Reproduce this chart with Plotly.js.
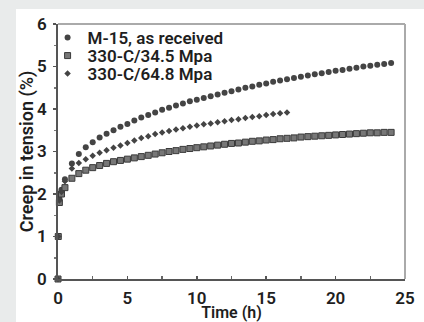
<!DOCTYPE html>
<html>
<head>
<meta charset="utf-8">
<script src="https://cdn.plot.ly/plotly-3.0.1.min.js"></script>
<style>
html,body{margin:0;padding:0;background:#e9ebeb;width:424px;height:322px;overflow:hidden;}
#chart{position:absolute;left:16px;top:9px;width:408px;height:313px;background:#fff;}
</style>
</head>
<body>
<div id="chart"></div>
<script>
// Time (h)
const timeA = [0,0.02,0.1,0.25,0.5,1,1.5,2,2.5,3,3.5,4,4.5,5,5.5,6,6.5,7,7.5,8,8.5,9,9.5,10,10.5,11,11.5,12,12.5,13,13.5,14,14.5,15,15.5,16,16.5,17,17.5,18,18.5,19,19.5,20,20.5,21,21.5,22,22.5,23,23.5,24];
// M-15, as received (%)
const m15 = [0,1.0,1.9,2.1,2.35,2.72,2.94,3.1,3.22,3.33,3.42,3.5,3.58,3.65,3.73,3.8,3.86,3.92,3.98,4.03,4.08,4.13,4.18,4.22,4.26,4.3,4.34,4.38,4.42,4.46,4.5,4.53,4.57,4.6,4.64,4.67,4.7,4.73,4.76,4.79,4.82,4.84,4.87,4.9,4.92,4.95,4.97,5.0,5.02,5.04,5.06,5.08];
// 330-C/34.5 Mpa (%)
const c345 = [0,1.0,1.8,2.0,2.15,2.37,2.48,2.56,2.62,2.67,2.72,2.76,2.79,2.82,2.85,2.88,2.91,2.94,2.97,3.0,3.02,3.05,3.07,3.09,3.11,3.13,3.15,3.17,3.19,3.2,3.22,3.24,3.25,3.27,3.28,3.3,3.31,3.32,3.34,3.35,3.36,3.37,3.38,3.39,3.4,3.41,3.42,3.43,3.44,3.44,3.45,3.45];
// 330-C/64.8 Mpa
const timeB = [0,0.02,0.1,0.25,0.5,1,1.5,2,2.5,3,3.5,4,4.5,5,5.5,6,6.5,7,7.5,8,8.5,9,9.5,10,10.5,11,11.5,12,12.5,13,13.5,14,14.5,15,15.5,16,16.5];
const c648 = [0,1.0,1.85,2.05,2.3,2.6,2.73,2.82,2.9,2.97,3.03,3.09,3.14,3.2,3.26,3.32,3.36,3.41,3.45,3.48,3.52,3.55,3.58,3.61,3.64,3.66,3.69,3.71,3.74,3.76,3.79,3.81,3.83,3.86,3.88,3.9,3.92];

const seriesNames = ["M-15, as received","330-C/34.5 Mpa","330-C/64.8 Mpa"];
const xTickVals = [0,5,10,15,20,25];
const yTickVals = [0,1,2,3,4,5,6];

const FONT = "Roboto, 'DejaVu Sans', sans-serif";
const TXT = "#1e1e1e";

const traces = [
  {x: timeA, y: m15, name: seriesNames[0], legend: "legend", mode: "markers", type: "scatter", cliponaxis: false,
   marker: {symbol: "circle", size: 6, color: "#444"}},
  {x: timeA, y: c345, name: seriesNames[1], legend: "legend2", mode: "markers", type: "scatter", cliponaxis: false,
   marker: {symbol: "square", size: 6, color: "#777", line: {color: "#3a3a3a", width: 1}}},
  {x: timeB, y: c648, name: seriesNames[2], legend: "legend3", mode: "markers", type: "scatter", cliponaxis: false,
   marker: {symbol: "diamond", size: 5, color: "#444"}}
];

function leg(y) {
  return {x: -0.03, y: y, xanchor: "left", yanchor: "middle", bgcolor: "rgba(0,0,0,0)",
          font: {family: FONT, size: 17, color: TXT, weight: 600}, itemwidth: 30};
}

const layout = {
  width: 408, height: 313,
  paper_bgcolor: "#fff", plot_bgcolor: "#fff",
  margin: {l: 42, r: 19, t: 14, b: 43},
  font: {family: FONT, size: 17, color: TXT, weight: 600},
  showlegend: true,
  legend: leg(0.9414),
  legend2: leg(0.871),
  legend3: leg(0.8008),
  xaxis: {range: [0, 25], tickvals: xTickVals, ticktext: xTickVals.map(String),
          showgrid: false, zeroline: false, showline: true, linecolor: "#555", linewidth: 2,
          ticks: "inside", ticklen: 3, tickcolor: "#555", tickwidth: 1.5, ticklabelstandoff: 3,
          minor: {dtick: 2.5, ticks: "inside", ticklen: 3, tickcolor: "#666", showgrid: false},
          title: {text: "Time (h)", standoff: 5, font: {family: FONT, size: 16, weight: 600, color: TXT}},
          tickfont: {family: FONT, size: 17, weight: 600, color: TXT}},
  yaxis: {range: [0, 6], tickvals: yTickVals, ticktext: yTickVals.map(String),
          showgrid: false, zeroline: false, showline: true, linecolor: "#555", linewidth: 2,
          ticks: "outside", ticklen: 3, tickcolor: "#555", tickwidth: 1.5, ticklabelstandoff: 3,
          minor: {dtick: 0.5, ticks: "outside", ticklen: 2, tickcolor: "#777", showgrid: false},
          title: {text: "Creep in tension (%)", standoff: 4, font: {family: FONT, size: 18, weight: 600, color: TXT}},
          tickfont: {family: FONT, size: 17, weight: 600, color: TXT}},
  shapes: [
    {type: "line", xref: "paper", yref: "paper", x0: 0, x1: 1, y0: 1, y1: 1, line: {color: "#aaa", width: 2}},
    {type: "line", xref: "paper", yref: "paper", x0: 1, x1: 1, y0: 0, y1: 1, line: {color: "#aaa", width: 2}}
  ]
};

Plotly.newPlot("chart", traces, layout, {displayModeBar: false, staticPlot: true});
</script>
</body>
</html>
